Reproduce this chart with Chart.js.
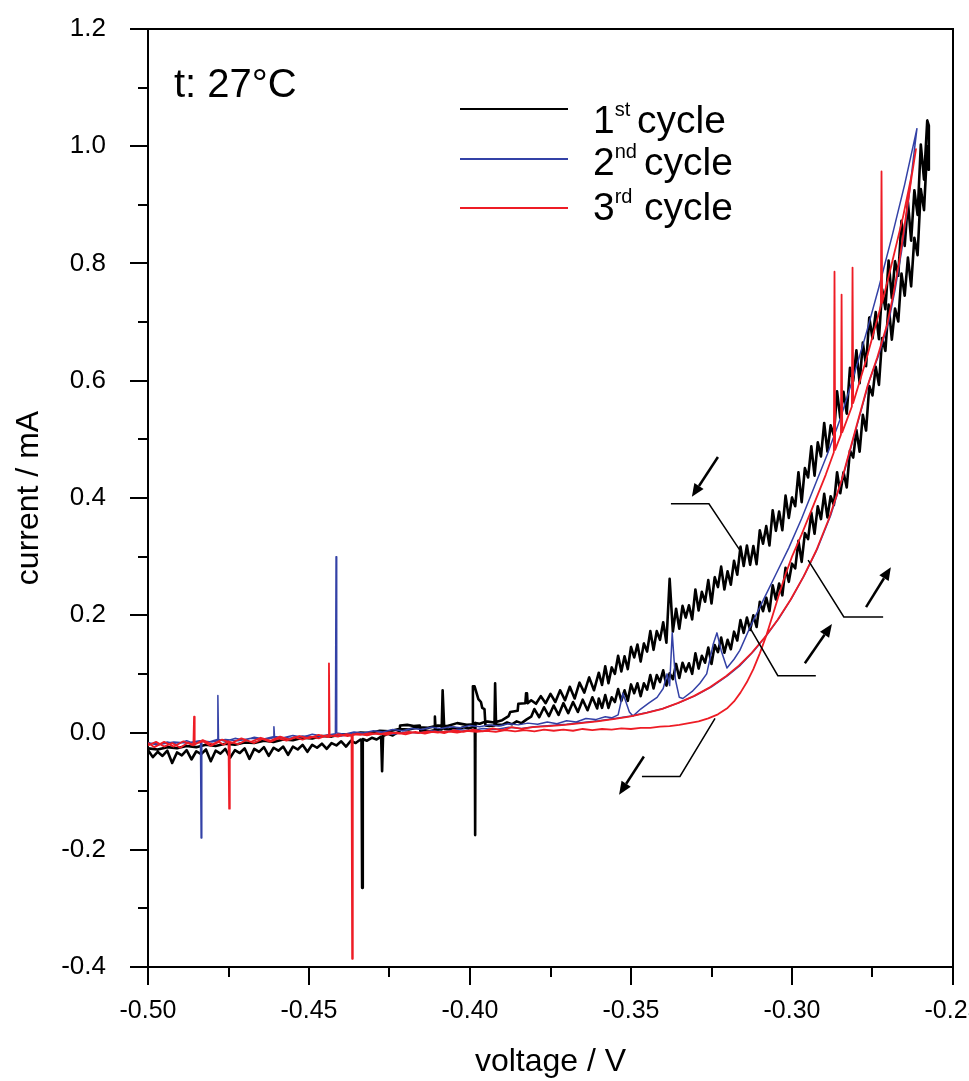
<!DOCTYPE html>
<html>
<head>
<meta charset="utf-8">
<script src="https://cdn.jsdelivr.net/npm/chart.js@4.4.1/dist/chart.umd.min.js"></script>
<style>
  html, body { margin: 0; padding: 0; background: #fff; }
  #wrap { width: 969px; height: 1081px; position: relative; }
</style>
</head>
<body>
<div id="wrap"><canvas id="cv"></canvas></div>
<script>
// Axis ranges / ticks
const voltageRange = [-0.50, -0.25];
const voltageStep = 0.05;
const currentRange = [-0.4, 1.2];
const currentStep = 0.2;

const seriesLabels = [['1', 'st'], ['2', 'nd'], ['3', 'rd']];
const seriesColors = ['#000000', '#3341a6', '#ee1c25'];

// 1st cycle - forward scan (lower black band), [voltage, current]
const cycle1Forward = [
  [-0.500,-0.030],[-0.4985,-0.042],[-0.497,-0.033],[-0.4955,-0.040],[-0.494,-0.031],[-0.4925,-0.052],
  [-0.491,-0.034],[-0.4895,-0.039],[-0.488,-0.030],[-0.4865,-0.046],[-0.485,-0.032],[-0.4835,-0.037],
  [-0.482,-0.029],[-0.4805,-0.049],[-0.479,-0.031],[-0.4775,-0.036],[-0.476,-0.028],[-0.4745,-0.043],
  [-0.473,-0.030],[-0.4715,-0.035],[-0.470,-0.027],[-0.4685,-0.045],[-0.467,-0.028],[-0.4655,-0.033],
  [-0.464,-0.025],[-0.4625,-0.040],[-0.461,-0.026],[-0.4595,-0.031],[-0.458,-0.024],[-0.4565,-0.038],
  [-0.455,-0.024],[-0.4535,-0.029],[-0.452,-0.021],[-0.4505,-0.033],[-0.449,-0.021],[-0.4475,-0.026],
  [-0.446,-0.019],[-0.4445,-0.028],[-0.443,-0.018],[-0.4415,-0.022],[-0.440,-0.015],[-0.4385,-0.024],
  [-0.437,-0.014],[-0.4355,-0.018],[-0.4340,-0.012],[-0.4337,-0.013],[-0.4335,-0.265],[-0.4333,-0.011],
  [-0.432,-0.014],[-0.4305,-0.009],[-0.429,-0.012],[-0.4276,-0.007],[-0.4273,-0.066],[-0.4270,-0.006],
  [-0.4255,-0.002],[-0.424,-0.005],[-0.4225,0.000],[-0.4219,0.001],[-0.4217,0.012],[-0.4195,0.013],
  [-0.4175,0.011],[-0.4156,0.012],[-0.4154,0.002],[-0.414,0.004],[-0.4125,0.002],[-0.4111,0.004],
  [-0.4109,0.027],[-0.4107,0.004],[-0.4095,0.005],[-0.4088,0.005],[-0.4085,0.072],[-0.4080,0.006],
  [-0.4065,0.005],[-0.405,0.008],[-0.4035,0.006],[-0.402,0.009],[-0.4005,0.007],[-0.3993,0.009],
  [-0.3991,0.079],[-0.3986,0.079],[-0.3974,0.057],[-0.3966,0.052],[-0.3962,0.042],[-0.3955,0.040],
  [-0.3952,0.012],[-0.394,0.011],[-0.3924,0.012],[-0.3922,0.084],[-0.3919,0.013],[-0.390,0.013],
  [-0.3885,0.017],[-0.387,0.014],[-0.3855,0.019],[-0.384,0.016],[-0.3825,0.022],[-0.381,0.027],
  [-0.380,0.040],[-0.3785,0.026],[-0.377,0.043],[-0.3755,0.028],[-0.374,0.046],[-0.3725,0.030],
  [-0.371,0.050],[-0.3695,0.033],[-0.368,0.052],[-0.3665,0.035],[-0.365,0.056],[-0.3635,0.038],
  [-0.362,0.060],[-0.3605,0.041],
  [-0.360,0.058],[-0.359,0.042],[-0.358,0.064],[-0.357,0.042],[-0.356,0.060],[-0.355,0.052],
  [-0.354,0.074],[-0.353,0.054],[-0.352,0.072],[-0.351,0.054],[-0.350,0.082],[-0.349,0.067],
  [-0.348,0.084],[-0.347,0.062],[-0.346,0.084],[-0.345,0.073],[-0.344,0.098],[-0.343,0.075],
  [-0.342,0.098],[-0.341,0.086],[-0.340,0.106],[-0.339,0.080],[-0.338,0.101],[-0.337,0.091],
  [-0.336,0.117],[-0.335,0.093],[-0.334,0.119],[-0.333,0.104],[-0.332,0.118],[-0.331,0.100],
  [-0.330,0.135],[-0.329,0.109],[-0.328,0.131],[-0.327,0.119],[-0.326,0.145],[-0.325,0.117],
  [-0.324,0.149],[-0.323,0.137],[-0.322,0.162],[-0.321,0.136],[-0.320,0.158],[-0.319,0.142],
  [-0.318,0.172],[-0.317,0.157],[-0.316,0.192],[-0.315,0.170],[-0.314,0.196],[-0.313,0.175],
  [-0.312,0.200],[-0.311,0.180],[-0.310,0.223],[-0.309,0.207],[-0.308,0.230],[-0.307,0.207],
  [-0.306,0.251],[-0.305,0.227],[-0.304,0.254],[-0.303,0.234],[-0.302,0.281],[-0.301,0.257],
  [-0.300,0.288],[-0.299,0.280],[-0.298,0.327],[-0.297,0.291],[-0.296,0.340],[-0.295,0.330],
  [-0.294,0.375],[-0.293,0.339],[-0.292,0.386],[-0.291,0.364],[-0.290,0.407],[-0.289,0.367],
  [-0.288,0.403],[-0.287,0.388],[-0.286,0.444],[-0.285,0.408],[-0.284,0.444],[-0.283,0.418],
  [-0.282,0.481],[-0.281,0.469],[-0.280,0.516],[-0.279,0.479],[-0.278,0.542],[-0.277,0.515],
  [-0.276,0.591],[-0.275,0.575],[-0.274,0.624],[-0.273,0.593],[-0.272,0.673],[-0.271,0.651],
  [-0.270,0.730],[-0.269,0.670],[-0.268,0.723],[-0.267,0.701],[-0.266,0.783],[-0.265,0.745],
  [-0.264,0.810],[-0.263,0.761],[-0.262,0.844],[-0.261,0.814],[-0.260,0.927],[-0.259,0.891],
  [-0.258,1.000],[-0.2576,0.960],[-0.2575,1.035]
];

// 1st cycle - reverse scan (upper black band)
const cycle1Reverse = [
  [-0.258,1.044],[-0.259,0.943],[-0.260,1.003],[-0.261,0.883],[-0.262,0.925],[-0.263,0.839],
  [-0.264,0.905],[-0.265,0.830],[-0.266,0.873],[-0.267,0.779],[-0.268,0.804],[-0.269,0.741],
  [-0.270,0.805],[-0.271,0.722],[-0.272,0.756],[-0.273,0.671],[-0.274,0.717],[-0.275,0.672],
  [-0.276,0.708],[-0.277,0.625],[-0.278,0.665],[-0.279,0.596],[-0.280,0.652],[-0.281,0.600],
  [-0.282,0.622],[-0.283,0.544],[-0.284,0.581],[-0.285,0.536],[-0.286,0.582],[-0.287,0.507],
  [-0.288,0.524],[-0.289,0.479],[-0.290,0.528],[-0.291,0.471],[-0.292,0.495],[-0.293,0.438],
  [-0.294,0.488],[-0.295,0.435],[-0.296,0.451],[-0.297,0.393],[-0.298,0.444],[-0.299,0.386],
  [-0.300,0.401],[-0.301,0.366],[-0.302,0.404],[-0.303,0.345],[-0.304,0.377],[-0.305,0.344],
  [-0.306,0.379],[-0.307,0.319],[-0.308,0.352],[-0.309,0.322],[-0.310,0.345],[-0.311,0.287],
  [-0.312,0.318],[-0.313,0.286],[-0.314,0.319],[-0.315,0.284],[-0.316,0.317],[-0.317,0.269],
  [-0.318,0.293],[-0.319,0.252],[-0.320,0.275],[-0.321,0.244],[-0.322,0.283],[-0.323,0.248],
  [-0.324,0.265],[-0.325,0.220],[-0.326,0.260],[-0.327,0.223],[-0.328,0.240],[-0.329,0.208],
  [-0.330,0.244],[-0.331,0.193],[-0.332,0.217],[-0.333,0.196],[-0.334,0.216],[-0.335,0.177],
  [-0.336,0.211],[-0.337,0.172],[-0.338,0.262],[-0.339,0.153],[-0.340,0.188],[-0.341,0.158],
  [-0.342,0.173],[-0.343,0.141],[-0.344,0.173],[-0.345,0.138],[-0.346,0.152],[-0.347,0.121],
  [-0.348,0.150],[-0.349,0.128],[-0.350,0.146],[-0.351,0.108],[-0.352,0.130],[-0.353,0.104],
  [-0.354,0.131],[-0.355,0.100],[-0.356,0.111],[-0.357,0.084],[-0.358,0.113],[-0.359,0.081],
  [-0.360,0.102],[-0.3615,0.072],[-0.363,0.094],[-0.3645,0.068],[-0.366,0.085],[-0.3675,0.058],
  [-0.369,0.078],[-0.3705,0.055],[-0.372,0.072],[-0.3735,0.052],[-0.375,0.066],[-0.3765,0.050],
  [-0.378,0.062],[-0.3795,0.049],[-0.381,0.055],[-0.3821,0.050],[-0.3823,0.067],[-0.3826,0.066],
  [-0.3828,0.050],[-0.3850,0.049],[-0.3852,0.037],[-0.3875,0.035],[-0.3880,0.028],[-0.3900,0.021],
  [-0.3925,0.017],[-0.3950,0.019],[-0.3970,0.015],[-0.3983,0.016],[-0.3984,-0.175],[-0.3985,0.014],
  [-0.401,0.013],[-0.404,0.016],[-0.407,0.011],[-0.410,0.012],[-0.413,0.008],[-0.416,0.009],
  [-0.419,0.005],[-0.422,0.006],[-0.425,0.002],[-0.428,0.003],[-0.431,-0.001],[-0.434,0.000],
  [-0.437,-0.004],[-0.440,-0.003],[-0.443,-0.007],[-0.446,-0.006],[-0.449,-0.010],[-0.452,-0.009],
  [-0.455,-0.013],[-0.458,-0.012],[-0.461,-0.016],[-0.464,-0.014],[-0.467,-0.018],[-0.470,-0.017],
  [-0.473,-0.021],[-0.476,-0.019],[-0.479,-0.023],[-0.482,-0.021],[-0.485,-0.025],[-0.488,-0.023],
  [-0.491,-0.027],[-0.494,-0.025],[-0.497,-0.029],[-0.500,-0.027]
];

// 2nd cycle - forward scan (wiggly blue, then left smooth branch)
const cycle2Forward = [
  [-0.500,-0.017],[-0.497,-0.022],[-0.494,-0.016],[-0.491,-0.020],[-0.488,-0.014],[-0.4855,-0.019],
  [-0.4837,-0.015],[-0.4835,-0.180],[-0.4833,-0.014],[-0.481,-0.016],[-0.4785,-0.012],[-0.4783,0.063],
  [-0.4781,-0.012],[-0.476,-0.015],[-0.473,-0.010],[-0.470,-0.013],[-0.467,-0.008],[-0.464,-0.011],
  [-0.4611,-0.007],[-0.4609,0.010],[-0.4607,-0.007],[-0.458,-0.009],[-0.455,-0.005],[-0.452,-0.008],
  [-0.449,-0.003],[-0.446,-0.006],[-0.4418,-0.002],[-0.4416,0.300],[-0.4414,-0.001],[-0.439,-0.003],
  [-0.436,0.001],[-0.433,-0.001],[-0.430,0.003],[-0.427,0.001],[-0.424,0.005],[-0.421,0.003],
  [-0.418,0.007],[-0.415,0.005],[-0.412,0.009],[-0.409,0.007],[-0.406,0.010],[-0.403,0.008],
  [-0.400,0.012],[-0.397,0.010],[-0.394,0.013],[-0.391,0.011],[-0.388,0.015],[-0.385,0.013],
  [-0.382,0.016],[-0.379,0.014],[-0.376,0.018],[-0.373,0.015],[-0.370,0.020],[-0.367,0.018],
  [-0.364,0.024],[-0.361,0.022],[-0.358,0.027],[-0.356,0.025],[-0.354,0.030],[-0.3525,0.067],
  [-0.3505,0.035],[-0.3494,0.028],[-0.347,0.040],[-0.3445,0.050],[-0.3419,0.060],[-0.3400,0.075],
  [-0.3388,0.100],[-0.3380,0.080],[-0.3372,0.170],[-0.3362,0.090],[-0.3350,0.060],[-0.3339,0.058],
  [-0.331,0.070],[-0.3286,0.084],[-0.3265,0.100],[-0.3245,0.150],[-0.3233,0.170],[-0.3220,0.140],
  [-0.3202,0.110],[-0.318,0.125],[-0.3162,0.140],[-0.313,0.180],[-0.309,0.225],[-0.305,0.270],
  [-0.301,0.315],[-0.297,0.365],[-0.293,0.420],[-0.289,0.475],[-0.285,0.535],[-0.281,0.605],
  [-0.277,0.680],[-0.273,0.760],[-0.269,0.845],[-0.265,0.935],[-0.2612,1.030]
];

// 2nd cycle - reverse scan (right smooth branch, then baseline)
const cycle2Reverse = [
  [-0.2625,0.970],[-0.264,0.900],[-0.266,0.820],[-0.268,0.755],[-0.270,0.700],[-0.273,0.645],
  [-0.276,0.600],[-0.280,0.520],[-0.284,0.440],[-0.288,0.370],[-0.292,0.315],[-0.296,0.270],
  [-0.300,0.230],[-0.304,0.195],[-0.308,0.165],[-0.312,0.138],[-0.316,0.115],[-0.320,0.097],
  [-0.325,0.078],[-0.330,0.063],[-0.335,0.051],[-0.340,0.041],[-0.345,0.034],[-0.350,0.028],
  [-0.355,0.024],[-0.360,0.020],[-0.365,0.017],[-0.370,0.014],[-0.375,0.012],[-0.380,0.010],
  [-0.384,0.007],[-0.388,0.009],[-0.392,0.005],[-0.396,0.007],[-0.400,0.003],[-0.404,0.005],
  [-0.408,0.001],[-0.412,0.003],[-0.416,-0.001],[-0.420,0.001],[-0.424,-0.003],[-0.428,-0.001],
  [-0.432,-0.004],[-0.436,-0.002],[-0.440,-0.006],[-0.444,-0.004],[-0.448,-0.008],[-0.452,-0.006],
  [-0.456,-0.010],[-0.460,-0.008],[-0.464,-0.012],[-0.468,-0.010],[-0.472,-0.014],[-0.476,-0.012],
  [-0.480,-0.016],[-0.484,-0.014],[-0.488,-0.018],[-0.492,-0.016],[-0.496,-0.020],[-0.500,-0.018]
];

// 3rd cycle - forward scan (flat then steep, spikes near the top)
const cycle3Forward = [
  [-0.500,-0.022],[-0.4975,-0.016],[-0.495,-0.024],[-0.4925,-0.018],[-0.490,-0.026],[-0.4875,-0.017],
  [-0.4859,-0.021],[-0.4857,0.027],[-0.4855,-0.020],[-0.483,-0.015],[-0.4805,-0.023],[-0.478,-0.016],
  [-0.4765,-0.021],[-0.4750,-0.015],[-0.4748,-0.130],[-0.4746,-0.016],[-0.472,-0.020],[-0.4695,-0.013],
  [-0.467,-0.018],[-0.4645,-0.011],[-0.462,-0.016],[-0.4595,-0.010],[-0.457,-0.014],[-0.4545,-0.008],
  [-0.452,-0.012],[-0.4495,-0.007],[-0.447,-0.010],[-0.4445,-0.005],[-0.4440,-0.006],[-0.4438,0.118],
  [-0.4436,-0.005],[-0.441,-0.007],[-0.4385,-0.003],[-0.4368,-0.004],[-0.4366,-0.386],[-0.4364,-0.003],
  [-0.434,-0.004],[-0.431,-0.001],[-0.428,-0.003],[-0.425,0.000],[-0.422,-0.002],[-0.419,0.001],
  [-0.416,-0.001],[-0.413,0.002],[-0.410,0.000],[-0.407,0.002],[-0.404,0.000],[-0.401,0.003],
  [-0.398,0.001],[-0.395,0.003],[-0.392,0.001],[-0.389,0.004],[-0.386,0.002],[-0.383,0.004],
  [-0.380,0.002],[-0.377,0.005],[-0.374,0.003],[-0.371,0.005],[-0.368,0.003],[-0.365,0.006],
  [-0.362,0.004],[-0.359,0.006],[-0.356,0.005],[-0.353,0.007],[-0.350,0.006],[-0.347,0.008],
  [-0.344,0.008],[-0.341,0.010],[-0.338,0.011],[-0.335,0.013],[-0.332,0.016],[-0.329,0.019],
  [-0.326,0.024],[-0.323,0.031],[-0.320,0.042],[-0.318,0.053],[-0.316,0.068],[-0.314,0.086],
  [-0.312,0.108],[-0.310,0.135],[-0.308,0.165],[-0.306,0.200],[-0.304,0.236],[-0.302,0.270],
  [-0.300,0.300],[-0.297,0.338],[-0.293,0.392],[-0.2895,0.440],[-0.2870,0.478],[-0.2868,0.786],
  [-0.2866,0.482],[-0.2848,0.508],[-0.2846,0.747],[-0.2844,0.512],[-0.2814,0.556],[-0.2812,0.793],
  [-0.2810,0.562],[-0.277,0.635],[-0.2735,0.705],[-0.2724,0.728],[-0.2722,0.957],[-0.2720,0.733],
  [-0.269,0.800],[-0.2655,0.880],[-0.2625,0.960],[-0.2615,0.995]
];

// 3rd cycle - reverse scan
const cycle3Reverse = [
  [-0.2628,0.950],[-0.2645,0.885],[-0.2665,0.810],[-0.2685,0.748],[-0.2705,0.695],[-0.2735,0.640],
  [-0.2765,0.592],[-0.2805,0.512],[-0.2845,0.432],[-0.2885,0.365],[-0.2925,0.310],[-0.2965,0.265],
  [-0.3005,0.226],[-0.3045,0.192],[-0.3085,0.162],[-0.3125,0.136],[-0.3165,0.114],[-0.3205,0.096],
  [-0.3255,0.077],[-0.3305,0.062],[-0.3355,0.050],[-0.3405,0.040],[-0.3455,0.033],[-0.3505,0.027],
  [-0.3555,0.023],[-0.3605,0.019],[-0.3655,0.016],[-0.3705,0.013],[-0.3755,0.011],[-0.3805,0.009],
  [-0.384,0.006],[-0.387,0.009],[-0.390,0.004],[-0.393,0.007],[-0.396,0.002],[-0.399,0.005],
  [-0.402,0.001],[-0.405,0.004],[-0.408,-0.001],[-0.411,0.002],[-0.414,-0.002],[-0.417,0.001],
  [-0.420,-0.003],[-0.423,0.000],[-0.426,-0.004],[-0.429,-0.001],[-0.432,-0.005],[-0.435,-0.002],
  [-0.438,-0.006],[-0.441,-0.003],[-0.444,-0.008],[-0.447,-0.004],[-0.450,-0.010],[-0.453,-0.006],
  [-0.456,-0.012],[-0.459,-0.007],[-0.462,-0.014],[-0.465,-0.009],[-0.468,-0.016],[-0.471,-0.010],
  [-0.474,-0.018],[-0.477,-0.012],[-0.480,-0.020],[-0.483,-0.013],[-0.486,-0.022],[-0.489,-0.015],
  [-0.492,-0.024],[-0.495,-0.016],[-0.498,-0.025],[-0.500,-0.018]
];

// Scan-direction annotations in data units: leader polylines and arrows [from, to]
const leaderLines = [
  [[-0.3376,0.390],[-0.3258,0.390],[-0.3162,0.311]],
  [[-0.2717,0.197],[-0.2839,0.197],[-0.2950,0.294]],
  [[-0.2926,0.097],[-0.3044,0.097],[-0.3130,0.178]],
  [[-0.3466,-0.075],[-0.3348,-0.075],[-0.3239,0.024]]
];
const scanArrows = [
  [[-0.3230,0.470],[-0.3311,0.402]],
  [[-0.2770,0.214],[-0.2693,0.282]],
  [[-0.2960,0.118],[-0.2876,0.185]],
  [[-0.3460,-0.041],[-0.3537,-0.106]]
];

const FONT = "'Liberation Sans', Arial, Helvetica, sans-serif";

function toPoints(...branches) {
  return branches.flat().map(p => ({ x: p[0], y: p[1] }));
}

// Frame on top/right + minor ticks
const framePlugin = {
  id: 'frame',
  afterDraw(chart) {
    const { ctx, chartArea: a, scales: { x, y } } = chart;
    ctx.save();
    ctx.strokeStyle = '#000';
    ctx.lineWidth = 2;
    ctx.beginPath();
    ctx.moveTo(a.left, a.top);
    ctx.lineTo(a.right, a.top);
    ctx.lineTo(a.right, a.bottom);
    ctx.stroke();

    // minor ticks halfway between major ones
    ctx.beginPath();
    const xt = x.ticks.map(t => t.value);
    for (let i = 0; i < xt.length - 1; i++) {
      const px = Math.round(x.getPixelForValue((xt[i] + xt[i + 1]) / 2));
      ctx.moveTo(px, a.bottom);
      ctx.lineTo(px, a.bottom + 10);
    }
    const yt = y.ticks.map(t => t.value);
    for (let i = 0; i < yt.length - 1; i++) {
      const py = Math.round(y.getPixelForValue((yt[i] + yt[i + 1]) / 2));
      ctx.moveTo(a.left, py);
      ctx.lineTo(a.left - 10, py);
    }
    ctx.stroke();
    ctx.restore();
  }
};

// Leader lines + arrows for scan direction
const arrowPlugin = {
  id: 'scanArrows',
  afterDatasetsDraw(chart) {
    const { ctx, scales: { x, y } } = chart;
    const px = p => [x.getPixelForValue(p[0]), y.getPixelForValue(p[1])];
    ctx.save();
    ctx.strokeStyle = '#000';
    ctx.fillStyle = '#000';
    ctx.lineWidth = 1.5;
    leaderLines.forEach(line => {
      ctx.beginPath();
      line.forEach((p, i) => {
        const [u, v] = px(p);
        if (i === 0) ctx.moveTo(u, v); else ctx.lineTo(u, v);
      });
      ctx.stroke();
    });
    ctx.lineWidth = 2.5;
    scanArrows.forEach(([from, to]) => {
      const [x0, y0] = px(from);
      const [x1, y1] = px(to);
      const ang = Math.atan2(y1 - y0, x1 - x0);
      const head = 13, half = 5.5;
      const bx = x1 - head * Math.cos(ang), by = y1 - head * Math.sin(ang);
      ctx.beginPath();
      ctx.moveTo(x0, y0);
      ctx.lineTo(bx, by);
      ctx.stroke();
      ctx.beginPath();
      ctx.moveTo(x1, y1);
      ctx.lineTo(bx + half * Math.sin(ang), by - half * Math.cos(ang));
      ctx.lineTo(bx - half * Math.sin(ang), by + half * Math.cos(ang));
      ctx.closePath();
      ctx.fill();
    });
    ctx.restore();
  }
};

// Temperature note and legend with superscripts
const legendPlugin = {
  id: 'cycleLegend',
  afterDraw(chart) {
    const { ctx } = chart;
    ctx.save();
    ctx.fillStyle = '#000';
    ctx.textBaseline = 'alphabetic';
    ctx.textAlign = 'left';
    ctx.font = '40px ' + FONT;
    ctx.fillText('t: 27\u00B0C', 174, 97);

    const lineY = [109, 159, 208];
    const baseY = [133, 175, 220];
    const wordX = [637, 644, 644];
    seriesLabels.forEach((lab, i) => {
      ctx.strokeStyle = seriesColors[i];
      ctx.lineWidth = 2;
      ctx.beginPath();
      ctx.moveTo(460, lineY[i]);
      ctx.lineTo(568, lineY[i]);
      ctx.stroke();

      ctx.font = '39px ' + FONT;
      ctx.fillText(lab[0], 593, baseY[i]);
      const w = ctx.measureText(lab[0]).width;
      ctx.font = '20px ' + FONT;
      ctx.fillText(lab[1], 593 + w, baseY[i] - 17);
      ctx.font = '39px ' + FONT;
      ctx.fillText('cycle', wordX[i], baseY[i]);
    });
    ctx.restore();
  }
};

const lineStyle = {
  showLine: true,
  pointRadius: 0,
  pointHoverRadius: 0,
  tension: 0,
  fill: false,
  borderJoinStyle: 'round'
};

new Chart(document.getElementById('cv'), {
  type: 'scatter',
  data: {
    datasets: [
      { ...lineStyle, label: '1st cycle', data: toPoints(cycle1Forward, cycle1Reverse),
        borderColor: seriesColors[0], borderWidth: 2.6, order: 3 },
      { ...lineStyle, label: '2nd cycle', data: toPoints(cycle2Forward, cycle2Reverse),
        borderColor: seriesColors[1], borderWidth: 1.5, order: 2 },
      { ...lineStyle, label: '3rd cycle', data: toPoints(cycle3Forward, cycle3Reverse),
        borderColor: seriesColors[2], borderWidth: 1.8, order: 1 }
    ]
  },
  options: {
    responsive: true,
    maintainAspectRatio: false,
    animation: false,
    events: [],
    layout: { padding: { top: 29, right: 16, left: 0, bottom: 0 } },
    plugins: {
      legend: { display: false },
      tooltip: { enabled: false }
    },
    scales: {
      x: {
        type: 'linear',
        min: voltageRange[0],
        max: voltageRange[1],
        afterFit: s => { s.height = 114; s.paddingLeft = 0; s.paddingRight = 0; },
        ticks: {
          stepSize: voltageStep,
          color: '#000',
          padding: 11,
          font: { family: FONT, size: 25 },
          callback: v => v.toFixed(2)
        },
        grid: { drawOnChartArea: false, drawTicks: true, tickLength: 18, color: '#000', lineWidth: 2 },
        border: { display: true, color: '#000', width: 2 },
        title: { display: true, text: 'voltage / V', color: '#000',
                 font: { family: FONT, size: 32 }, padding: { top: 0, bottom: 0 } }
      },
      y: {
        type: 'linear',
        min: currentRange[0],
        max: currentRange[1],
        afterFit: s => { s.width = 148; s.paddingTop = 0; s.paddingBottom = 0; },
        ticks: {
          stepSize: currentStep,
          color: '#000',
          padding: 24,
          font: { family: FONT, size: 26 },
          callback: v => v.toFixed(1)
        },
        grid: { drawOnChartArea: false, drawTicks: true, tickLength: 18, color: '#000', lineWidth: 2 },
        border: { display: true, color: '#000', width: 2 },
        title: { display: true, text: 'current / mA', color: '#000',
                 font: { family: FONT, size: 32 }, padding: { top: 10, bottom: 0 } }
      }
    }
  },
  plugins: [framePlugin, arrowPlugin, legendPlugin]
});
</script>
</body>
</html>
